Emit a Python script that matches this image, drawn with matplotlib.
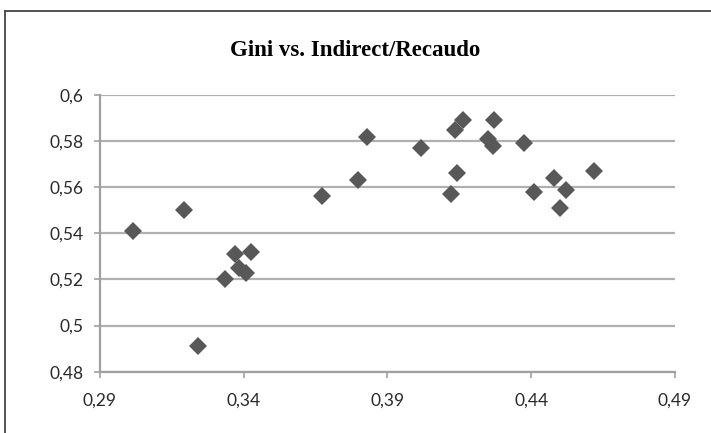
import matplotlib
matplotlib.use("Agg")
import matplotlib.pyplot as plt
from matplotlib.lines import Line2D
from matplotlib.ticker import FuncFormatter

# Indirect/Recaudo vs Gini
indirect = [0.3015, 0.3194, 0.3240, 0.3336, 0.3370, 0.3425, 0.3384, 0.3408,
            0.3673, 0.3797, 0.3828, 0.4015, 0.4120, 0.4140, 0.4136, 0.4163,
            0.4269, 0.4249, 0.4267, 0.4376, 0.4409, 0.4478, 0.4520, 0.4501,
            0.4619]
gini = [0.541, 0.550, 0.491, 0.520, 0.531, 0.532, 0.525, 0.523,
        0.556, 0.563, 0.582, 0.577, 0.557, 0.566, 0.585, 0.589,
        0.589, 0.581, 0.578, 0.579, 0.558, 0.564, 0.559, 0.551,
        0.567]

x_ticks = [0.29, 0.34, 0.39, 0.44, 0.49]
y_ticks = [0.48, 0.50, 0.52, 0.54, 0.56, 0.58, 0.60]


def comma(v, _pos=None):
    return f"{round(v, 2):g}".replace(".", ",")


fig = plt.figure(figsize=(7.11, 4.33), dpi=100)
ax = fig.add_axes([0.1406, 0.1416, 0.8088, 0.639])

ax.plot(indirect, gini, linestyle="none", marker="D", markersize=9.5,
        color="#585858", markeredgewidth=0)

ax.set_xlim(0.29, 0.49)
ax.set_ylim(0.48, 0.60)
ax.set_xticks(x_ticks)
ax.set_yticks(y_ticks)
ax.xaxis.set_major_formatter(FuncFormatter(comma))
ax.yaxis.set_major_formatter(FuncFormatter(comma))

ax.grid(axis="y", color="#b0b0b0", linewidth=1.6)
ax.set_axisbelow(True)
for side in ("top", "right"):
    ax.spines[side].set_visible(False)
for side in ("left", "bottom"):
    ax.spines[side].set_color("#a0a0a0")
    ax.spines[side].set_linewidth(1.6)

ax.tick_params(axis="both", colors="#a0a0a0", length=4, width=1.2,
               labelcolor="#2a2a2a", labelsize=12.5)
ax.tick_params(axis="y", pad=8)
ax.tick_params(axis="x", pad=11)
for lab in ax.get_xticklabels() + ax.get_yticklabels():
    lab.set_fontfamily("Lato")

fig.text(0.5, 0.883, "Gini vs. Indirect/Recaudo", ha="center", va="center",
         fontsize=16.5, fontweight="bold", family="Liberation Serif")

# frame around the chart (only top and left edges are in the crop)
fig.add_artist(Line2D([5 / 711, 1], [1 - 11 / 433, 1 - 11 / 433],
                      transform=fig.transFigure, color="#444444", linewidth=1.3))
fig.add_artist(Line2D([5 / 711, 5 / 711], [0, 1 - 11 / 433],
                      transform=fig.transFigure, color="#444444", linewidth=1.3))

fig.savefig("out.png", dpi=100)
